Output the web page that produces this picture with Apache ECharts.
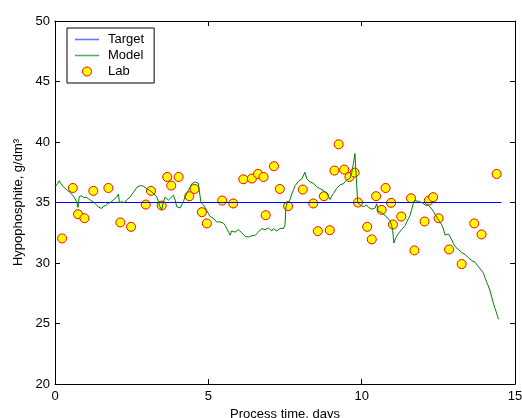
<!DOCTYPE html>
<html>
<head>
<meta charset="utf-8">
<script src="https://cdn.jsdelivr.net/npm/echarts@6/dist/echarts.min.js"></script>
<style>
html,body{margin:0;padding:0;background:#fff;}
#chart{width:522px;height:418px;}
</style>
</head>
<body>
<div id="chart"></div>
<script>
// Lab measurements (days, g/dm3)
const labDays = [0.23,0.58,0.75,0.96,1.25,1.74,2.13,2.48,2.96,3.13,3.48,3.66,3.79,4.03,4.38,4.55,4.79,4.95,5.45,5.81,6.14,6.42,6.62,6.80,6.87,7.14,7.33,7.60,8.08,8.42,8.57,8.77,8.96,9.11,9.25,9.43,9.60,9.77,9.88,10.18,10.33,10.47,10.65,10.78,10.96,11.02,11.29,11.61,11.72,12.05,12.19,12.33,12.51,12.85,13.26,13.67,13.91,14.40];
const labValues = [32.03,36.20,34.03,33.70,35.96,36.20,33.35,32.99,34.83,35.96,34.75,37.11,36.40,37.11,35.52,36.12,34.20,33.27,35.16,34.92,36.92,36.98,37.36,37.11,33.95,38.00,36.12,34.70,36.07,34.92,32.63,35.52,32.71,37.64,39.81,37.72,37.11,37.47,35.00,32.99,31.95,35.52,34.39,36.20,34.97,33.18,33.84,35.35,31.04,33.43,35.16,35.44,33.70,31.12,29.91,33.27,32.36,37.36];

// Model trace (days, g/dm3)
const modelDays = [0.00,0.03,0.08,0.14,0.18,0.22,0.27,0.33,0.40,0.49,0.55,0.62,0.67,0.71,0.75,0.79,0.83,0.87,0.94,1.01,1.06,1.12,1.18,1.25,1.33,1.41,1.47,1.52,1.58,1.66,1.72,1.79,1.85,1.90,1.96,2.01,2.07,2.10,2.18,2.28,2.33,2.39,2.45,2.50,2.56,2.61,2.67,2.72,2.78,2.83,2.88,2.93,2.99,3.04,3.12,3.21,3.27,3.32,3.37,3.42,3.48,3.53,3.59,3.65,3.70,3.78,3.86,3.92,3.97,4.02,4.08,4.13,4.19,4.24,4.30,4.35,4.41,4.46,4.52,4.57,4.62,4.67,4.73,4.76,4.84,4.90,4.95,5.00,5.05,5.10,5.16,5.22,5.27,5.33,5.38,5.44,5.49,5.55,5.60,5.66,5.71,5.76,5.82,5.87,5.92,5.98,6.03,6.09,6.14,6.20,6.25,6.31,6.36,6.42,6.47,6.53,6.58,6.63,6.68,6.74,6.79,6.85,6.90,6.96,7.01,7.07,7.12,7.18,7.23,7.29,7.34,7.40,7.45,7.50,7.53,7.58,7.66,7.72,7.77,7.83,7.88,7.94,7.99,8.05,8.10,8.15,8.21,8.27,8.32,8.37,8.42,8.48,8.53,8.59,8.64,8.70,8.75,8.81,8.86,8.92,8.97,9.03,9.08,9.13,9.18,9.24,9.29,9.35,9.40,9.46,9.51,9.57,9.62,9.67,9.73,9.78,9.84,9.87,9.95,10.00,10.05,10.11,10.16,10.22,10.27,10.33,10.38,10.44,10.49,10.54,10.60,10.65,10.72,10.82,10.87,10.92,10.97,11.01,11.05,11.10,11.14,11.20,11.25,11.30,11.36,11.42,11.47,11.53,11.58,11.63,11.68,11.74,11.79,11.85,11.90,11.96,12.01,12.07,12.12,12.18,12.23,12.29,12.34,12.40,12.45,12.50,12.55,12.61,12.66,12.72,12.77,12.83,12.88,12.94,12.99,13.05,13.10,13.16,13.21,13.27,13.32,13.37,13.42,13.48,13.53,13.59,13.64,13.70,13.75,13.81,13.86,13.92,13.97,14.02,14.08,14.13,14.18,14.24,14.29,14.35,14.40,14.46,14.51,14.56];
const modelValues = [36.30,36.45,36.55,36.80,36.60,36.50,36.30,36.20,36.00,35.85,35.70,35.45,35.30,35.05,34.60,35.50,35.45,35.55,35.40,35.45,35.30,35.25,35.10,35.05,34.85,34.65,34.55,34.50,34.70,34.75,34.95,34.95,35.10,35.20,35.35,35.45,35.70,35.00,35.05,35.00,35.20,35.35,35.45,35.60,35.85,36.00,36.25,36.35,36.40,36.50,36.35,36.30,36.15,36.05,35.95,35.75,35.60,35.45,35.10,34.65,34.40,35.00,35.45,35.30,35.20,35.40,35.60,35.20,34.65,34.50,34.55,34.80,35.10,35.45,35.75,36.00,36.30,36.55,36.60,36.70,36.55,36.60,36.45,35.00,34.80,34.55,34.40,34.10,33.85,33.75,33.70,33.55,33.40,33.50,33.40,33.30,33.30,33.10,32.95,32.55,32.30,32.65,32.70,32.55,32.60,32.75,32.60,32.50,32.40,32.20,32.05,32.15,32.15,32.25,32.10,32.30,32.30,32.55,32.70,32.85,32.95,32.75,32.75,32.90,32.85,32.65,32.85,32.80,32.65,32.80,32.85,32.70,32.85,33.15,34.65,35.00,35.20,35.70,36.00,36.40,36.55,36.75,36.85,36.95,37.00,37.50,36.95,36.85,36.70,36.60,36.60,36.45,36.30,36.20,36.15,36.05,36.00,35.85,35.75,35.50,35.25,35.55,35.75,35.95,36.15,36.30,36.45,36.50,36.55,36.70,36.85,36.90,37.00,37.40,38.20,39.05,39.20,35.00,34.80,34.75,34.65,34.70,34.80,34.60,34.50,34.45,34.35,34.55,34.90,34.25,34.25,34.20,34.00,33.80,33.65,33.50,33.20,32.70,31.65,32.00,32.20,32.45,32.60,32.75,32.85,33.10,33.40,33.70,33.95,34.40,34.90,35.15,35.20,35.10,35.20,35.00,34.90,34.80,34.80,34.75,34.65,34.45,34.25,34.00,33.80,33.60,33.40,33.15,32.85,32.30,32.45,32.40,32.30,31.90,31.60,31.35,31.20,31.10,31.05,30.85,30.80,30.70,30.65,30.45,30.40,30.20,30.10,30.05,29.95,29.70,29.55,29.35,29.15,28.80,28.40,28.10,27.75,27.20,26.70,26.25,25.85,25.35];

// Target
const targetDays = [0, 14.56];
const targetValues = [35, 35];

const zip = (a, b) => a.map((v, i) => [v, b[i]]);
const FONT = 'Liberation Sans, Arial, sans-serif';
const LINE_ICON = 'path://M0,0 L24,0 L24,1.6 L0,1.6 Z';

const chart = echarts.init(document.getElementById('chart'), null, {renderer: 'canvas'});
const axisCommon = {
  axisLine: {show: true, onZero: false, lineStyle: {color: '#000', width: 1}},
  axisTick: {show: true, inside: true, length: 5, lineStyle: {color: '#000'}},
  splitLine: {show: false}
};
chart.setOption({
  animation: false,
  backgroundColor: '#fff',
  grid: {left: 55, right: 7, top: 21, bottom: 34, containLabel: false, outerBoundsMode: 'none'},
  legend: {
    orient: 'vertical',
    left: 67, top: 28,
    padding: [5, 10, 5, 8],
    itemWidth: 24, itemHeight: 9, itemGap: 3,
    backgroundColor: '#fff',
    borderColor: '#000', borderWidth: 1,
    textStyle: {fontFamily: FONT, fontSize: 13, color: '#000', padding: [0, 0, 0, 4]},
    data: [
      {name: 'Target', icon: LINE_ICON,
       itemStyle: {color: '#6f6fff', borderColor: '#6f6fff', borderWidth: 0}},
      {name: 'Model', icon: LINE_ICON,
       itemStyle: {color: '#5aae5a', borderColor: '#5aae5a', borderWidth: 0}},
      {name: 'Lab', icon: 'circle',
       itemStyle: {color: '#ffff00', borderColor: '#ff0000', borderWidth: 1}}
    ]
  },
  xAxis: [
    Object.assign({
      type: 'value', position: 'bottom', min: 0, max: 15, interval: 5,
      name: 'Process time, days', nameLocation: 'middle', nameGap: 22,
      nameTextStyle: {fontFamily: FONT, fontSize: 13, color: '#000'},
      axisLabel: {fontFamily: FONT, fontSize: 13, color: '#000', margin: 6}
    }, axisCommon),
    Object.assign({
      type: 'value', position: 'top', min: 0, max: 15, interval: 5,
      axisLabel: {show: false}
    }, axisCommon)
  ],
  yAxis: [
    Object.assign({
      type: 'value', position: 'left', min: 20, max: 50, interval: 5,
      name: 'Hypophosphite, g/dm³', nameLocation: 'middle', nameGap: 30,
      nameTextStyle: {fontFamily: FONT, fontSize: 13, color: '#000'},
      axisLabel: {fontFamily: FONT, fontSize: 13, color: '#000', margin: 5}
    }, axisCommon),
    Object.assign({
      type: 'value', position: 'right', min: 20, max: 50, interval: 5,
      axisLabel: {show: false}
    }, axisCommon)
  ],
  series: [
    {
      name: 'Target', type: 'line', xAxisIndex: 0, yAxisIndex: 0,
      data: zip(targetDays, targetValues), symbol: 'none',
      lineStyle: {color: '#0000ff', width: 1}, itemStyle: {color: '#0000ff'}
    },
    {
      name: 'Model', type: 'line', xAxisIndex: 0, yAxisIndex: 0,
      data: zip(modelDays, modelValues), symbol: 'none',
      lineStyle: {color: '#008000', width: 1}, itemStyle: {color: '#008000'}
    },
    {
      name: 'Lab', type: 'scatter', xAxisIndex: 0, yAxisIndex: 0,
      data: zip(labDays, labValues), symbol: 'circle', symbolSize: 9,
      itemStyle: {color: '#ffff00', borderColor: '#ff0000', borderWidth: 1, opacity: 1}
    }
  ]
});
</script>
</body>
</html>
